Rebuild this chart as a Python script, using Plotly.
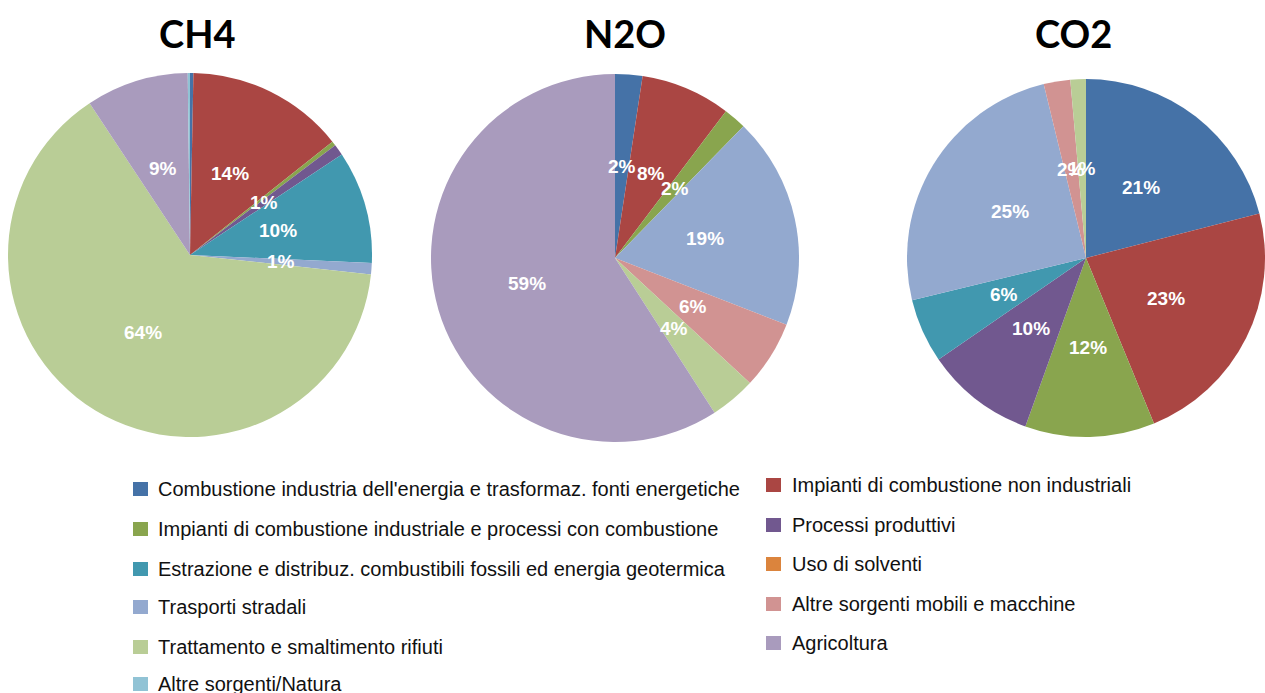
import math
import plotly.graph_objects as go

# Emission sources (shared by the three gases) and their colours
categories = [
    "Combustione industria dell'energia e trasformaz. fonti energetiche",
    "Impianti di combustione non industriali",
    "Impianti di combustione industriale e processi con combustione",
    "Processi produttivi",
    "Estrazione e distribuz. combustibili fossili ed energia geotermica",
    "Uso di solventi",
    "Trasporti stradali",
    "Altre sorgenti mobili e macchine",
    "Trattamento e smaltimento rifiuti",
    "Agricoltura",
    "Altre sorgenti/Natura",
]
colors = ["#4572A7", "#AA4643", "#89A54E", "#71588F", "#4198AF", "#DB843D",
          "#93A9CF", "#D19392", "#B9CD96", "#A99BBD", "#91C3D5"]

# Share of each source in total emissions (%)
gases = ["CH4", "N2O", "CO2"]
ch4 = [0.3, 14.0, 0.4, 1.0, 10.0, 0, 1.0, 0, 64.0, 9.1, 0.2]
n2o = [2.4, 7.9, 2.0, 0, 0, 0, 18.6, 6.0, 4.0, 59.1, 0]
co2 = [21.0, 22.8, 11.7, 9.9, 5.8, 0, 25.0, 2.4, 1.4, 0, 0]
series = [ch4, n2o, co2]

W, H = 1265, 693

# pie placement in pixels: centre x, centre y, radius; title centre x
pies = [(190, 255, 182, 197), (615, 258, 184, 625), (1086, 258, 179, 1073)]

fig = go.Figure()
annotations = []
shapes = []

for gas, vals, (cx, cy, r, tx) in zip(gases, series, pies):
    fig.add_trace(go.Pie(
        labels=categories, values=vals, name=gas,
        marker=dict(colors=colors, line=dict(width=0)),
        sort=False, direction="clockwise", rotation=0,
        textinfo="none", hoverinfo="label+percent", showlegend=False,
        domain=dict(x=[(cx - r) / W, (cx + r) / W],
                    y=[1 - (cy + r) / H, 1 - (cy - r) / H]),
    ))
    # gas title
    annotations.append(dict(
        text=gas, x=tx / W, y=1 - 33 / H, xref="paper", yref="paper",
        showarrow=False, xanchor="center", yanchor="middle",
        font=dict(family="Lato", size=38, color="#000000", weight="bold"),
    ))
    # percentage labels at half radius, mid-angle of each slice
    total = sum(vals)
    cum = 0.0
    for v in vals:
        if round(v) >= 1:
            th = 2 * math.pi * (cum + v / 2) / total
            lx = cx + 0.5 * r * math.sin(th)
            ly = cy - 0.5 * r * math.cos(th)
            annotations.append(dict(
                text=f"{round(v)}%", x=lx / W, y=1 - ly / H,
                xref="paper", yref="paper", showarrow=False,
                xanchor="center", yanchor="middle",
                font=dict(family="Liberation Sans", size=19, color="#FFFFFF",
                          weight="bold"),
            ))
        cum += v

# two-column legend below the pies
left_rows = [489, 529, 569, 607, 647, 684]
right_rows = [485, 525, 564, 604, 643]
positions = []
for i in range(len(categories)):
    if i % 2 == 0:
        positions.append((133, 156, left_rows[i // 2]))
    else:
        positions.append((766, 790, right_rows[i // 2]))

for cat, col, (mx, tx, ry) in zip(categories, colors, positions):
    shapes.append(dict(
        type="rect", xref="paper", yref="paper",
        x0=mx / W, x1=(mx + 15) / W, y0=1 - (ry + 7) / H, y1=1 - (ry - 7) / H,
        fillcolor=col, line=dict(width=0),
    ))
    annotations.append(dict(
        text=cat, x=tx / W, y=1 - ry / H, xref="paper", yref="paper",
        showarrow=False, xanchor="left", yanchor="middle",
        font=dict(family="Liberation Sans", size=20, color="#111111"),
    ))

fig.update_layout(
    width=W, height=H,
    margin=dict(l=0, r=0, t=0, b=0),
    paper_bgcolor="#FFFFFF", plot_bgcolor="#FFFFFF",
    annotations=annotations, shapes=shapes,
    showlegend=False,
)

fig.write_html("out.html")
